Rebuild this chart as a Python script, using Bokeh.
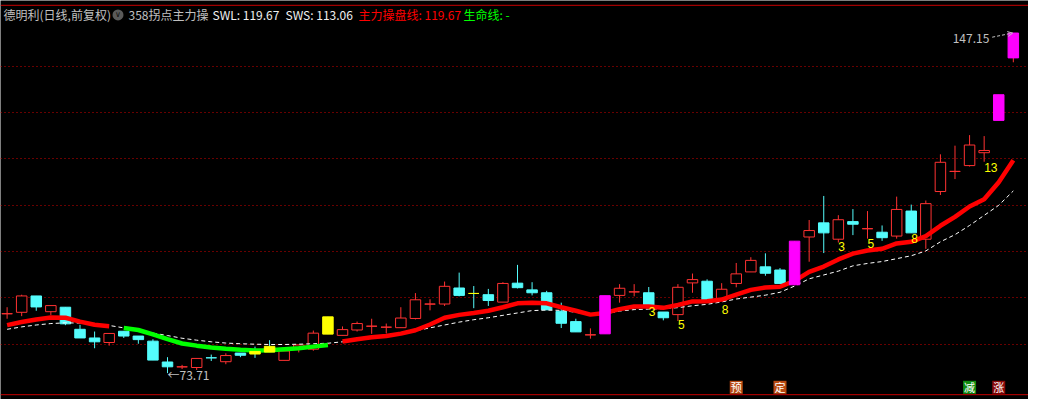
import numpy as np
from bokeh.plotting import figure
from bokeh.models import Range1d, FixedTicker, Span, Label, Arrow, OpenHead, ColumnDataSource
from bokeh.core.properties import value
from bokeh.embed import file_html
from bokeh.resources import INLINE

# ---------------- data ----------------
opens = [86.52, 86.85, 90.38, 86.98, 87.95, 83.18, 81.31, 80.33, 82.76, 81.72,
         80.62, 76.12, 75.06, 74.93, 77.03, 76.18, 78.05, 78.40, 78.26, 76.47,
         79.00, 78.88, 82.14, 81.87, 83.03, 83.84, 83.63, 83.53, 85.52, 88.62,
         88.64, 92.10, 90.92, 90.65, 89.05, 93.14, 91.69, 91.07, 87.06, 84.84,
         81.97, 82.20, 90.50, 91.25, 91.07, 86.91, 86.35, 93.20, 93.56, 89.47,
         93.08, 95.57, 96.67, 95.98, 92.79, 103.11, 106.16, 102.63, 106.43, 104.89,
         104.14, 103.31, 108.71, 102.63, 112.93, 117.26, 118.53, 121.31, 128.29, 141.78]
closes = [86.56, 90.38, 88.01, 88.30, 84.36, 81.31, 80.48, 82.28, 81.72, 80.95,
          76.53, 75.08, 75.08, 76.89, 77.01, 77.51, 77.57, 77.84, 79.50, 78.50,
          79.79, 82.35, 85.87, 83.11, 84.42, 83.86, 83.65, 85.61, 89.55, 88.64,
          92.46, 90.50, 90.92, 89.40, 93.08, 92.17, 91.07, 87.39, 84.48, 82.62,
          81.99, 90.44, 92.04, 91.27, 88.43, 85.67, 92.25, 93.91, 89.47, 91.83,
          95.15, 98.06, 95.28, 93.08, 102.21, 104.50, 104.00, 106.84, 105.87, 104.91,
          102.96, 109.06, 104.00, 110.31, 119.24, 117.28, 122.97, 121.79, 133.83, 147.15]
highs = [87.95, 90.65, 90.38, 88.30, 87.95, 84.15, 82.70, 82.28, 82.76, 81.72,
         81.04, 77.16, 75.50, 76.89, 77.72, 77.99, 78.05, 79.44, 80.83, 78.90,
         79.90, 82.91, 85.87, 83.80, 84.84, 85.46, 84.42, 87.95, 91.00, 89.67,
         93.49, 95.42, 92.52, 91.90, 93.35, 97.09, 93.35, 91.48, 88.93, 85.46,
         83.38, 90.44, 92.93, 92.93, 92.31, 86.91, 92.93, 95.22, 93.97, 93.14,
         97.50, 98.75, 99.58, 96.40, 102.21, 106.78, 111.97, 107.82, 109.13, 108.71,
         105.60, 111.83, 110.10, 110.99, 120.96, 122.83, 125.11, 124.90, 133.83, 147.15]
lows = [85.46, 86.02, 87.18, 86.23, 84.07, 81.31, 79.09, 79.65, 81.31, 80.06,
        76.53, 73.71, 74.60, 74.39, 76.33, 75.64, 77.16, 77.01, 78.26, 76.47,
        78.19, 78.55, 82.14, 81.87, 82.70, 82.20, 82.28, 83.53, 85.31, 87.27,
        88.22, 90.30, 87.74, 88.22, 89.05, 92.00, 90.50, 87.39, 83.45, 82.62,
        81.16, 82.20, 88.93, 90.30, 88.43, 85.11, 84.98, 91.07, 89.47, 89.30,
        92.25, 95.57, 94.74, 93.08, 92.79, 97.77, 99.64, 101.92, 103.52, 102.75,
        102.28, 102.75, 104.00, 100.55, 112.18, 115.62, 118.32, 119.36, 128.29, 140.83]

yellow_idx = [17, 18, 22, 32]          # yellow sticks of the indicator
limit_idx = [41, 54, 68, 69]           # magenta sticks (limit-up days)

swl = [84.07, 84.77, 85.31, 85.73, 85.67, 84.84, 84.15, 83.86, 83.45, 83.03,
       82.08, 81.04, 80.12, 79.65, 79.23, 78.96, 78.75, 78.61, 78.67, 78.88,
       79.09, 79.44, 79.79, 80.54, 81.04, 81.45, 81.72, 82.24, 82.97, 84.21,
       85.67, 86.29, 86.71, 87.18, 87.95, 88.78, 88.93, 88.78, 87.95, 87.18,
       86.35, 86.71, 87.54, 88.10, 88.10, 87.81, 88.43, 89.20, 89.26, 89.61,
       90.65, 91.69, 92.21, 92.37, 93.62, 95.57, 96.73, 98.27, 99.51, 100.20,
       100.55, 101.71, 102.07, 103.31, 105.53, 107.47, 109.69, 111.26, 114.94, 119.67]
sws = [83.18, 83.70, 84.11, 84.42, 84.57, 84.53, 84.36, 84.01, 83.49, 82.97,
       82.35, 81.83, 81.25, 80.83, 80.48, 80.21, 80.06, 79.96, 79.90, 79.90,
       79.96, 80.06, 80.17, 80.48, 81.00, 81.41, 81.83, 82.35, 82.86, 83.49,
       84.11, 84.73, 85.25, 85.67, 86.19, 86.71, 87.22, 87.33, 87.27, 86.85,
       86.39, 86.50, 87.12, 87.43, 87.54, 87.64, 87.85, 88.26, 88.57, 89.09,
       89.72, 90.13, 90.55, 91.17, 92.52, 94.08, 94.91, 95.74, 96.88, 97.40,
       97.81, 98.43, 99.06, 100.10, 102.07, 103.62, 105.60, 107.78, 109.96, 113.06]
green_from, green_to = 8, 22           # bars where the main line is green

count_idx = [44, 46, 49, 57, 59, 62, 67]
count_text = ["3", "5", "8", "3", "5", "8", "13"]
count_price = [87.12, 84.17, 87.39, 100.99, 101.69, 102.73, 118.11]

signal_idx = [50, 53, 66, 68]
signal_text = ["预", "定", "减", "涨"]

grid_levels = [80, 90, 100, 110, 120, 130, 140]

stock_title = "德明利(日线,前复权)"
indicator_name = "358拐点主力操"

# ---------------- layout helpers (reference pixel -> data) ----------------
REF_W, REF_H = 1044, 415
W, H = 1028, 399
X0_PX, DX_PX = 6.7, 14.81
Y80_PX, PX_PER_UNIT = 357.3, 4.817


def rx(px):
    return (px - X0_PX) / DX_PX


def ry(py):
    return 80 + (Y80_PX - py) / PX_PER_UNIT


def sx(px):
    # screen pixel of this figure -> data x (no rescaling of the reference)
    return rx(px * REF_W / W)


UP = "#FF3232"
DOWN = "#54FCFC"
YEL = "#FFFF00"
MAG = "#FF00FF"
CJK = "Noto Sans CJK SC"

n = len(closes)
idx = np.arange(n)
o = np.array(opens); c = np.array(closes); h = np.array(highs); l = np.array(lows)
special = set(yellow_idx) | set(limit_idx)

wick_col = []
for i in range(n):
    if i in yellow_idx:
        wick_col.append(DOWN)
    elif i in limit_idx:
        wick_col.append(UP)
    else:
        wick_col.append(UP if c[i] >= o[i] else DOWN)

p = figure(width=W, height=H,
           x_range=Range1d(rx(0), rx(REF_W)), y_range=Range1d(ry(REF_H), ry(0)),
           output_backend="svg", toolbar_location=None,
           background_fill_color="black", border_fill_color="black",
           min_border=0, outline_line_color=None)
p.xaxis.visible = False
p.yaxis.visible = False
p.xgrid.visible = False
p.ygrid.ticker = FixedTicker(ticks=grid_levels)
p.ygrid.grid_line_color = "#D00000"
p.ygrid.grid_line_dash = "1 3"
p.ygrid.grid_line_width = 1

p.add_layout(Span(location=ry(5), dimension="width", line_color="#C80000", line_width=1))
p.add_layout(Span(location=ry(410), dimension="width", line_color="#C80000", line_width=1))

# wicks
p.segment(x0=idx, y0=l, x1=idx, y1=h, line_color=wick_col, line_width=1)

# normal candles
norm = [i for i in range(n) if i not in special]
src_n = ColumnDataSource(dict(
    x=[int(i) for i in norm],
    top=[max(o[i], c[i]) for i in norm],
    bottom=[min(o[i], c[i]) for i in norm],
    fill=["#000000" if c[i] >= o[i] else DOWN for i in norm],
    line=[UP if c[i] >= o[i] else DOWN for i in norm],
))
p.vbar(x="x", top="top", bottom="bottom", width=0.72, fill_color="fill",
       line_color="line", line_width=1, source=src_n)

# indicator lines
p.line(idx, sws, line_color="white", line_width=1, line_dash="4 3")
swl_arr = np.array(swl, dtype=float)
red_line = swl_arr.copy(); red_line[green_from:green_to + 1] = np.nan
green_line = np.full(n, np.nan); green_line[green_from:green_to + 1] = swl_arr[green_from:green_to + 1]
p.line(idx, red_line, line_color="#FF0000", line_width=4.5)
p.line(idx, green_line, line_color="#00FF00", line_width=4.5)

# indicator sticks
sp = sorted(special)
src_s = ColumnDataSource(dict(
    x=sp,
    top=[max(o[i], c[i]) for i in sp],
    bottom=[min(o[i], c[i]) for i in sp],
    col=[YEL if i in yellow_idx else MAG for i in sp],
))
p.vbar(x="x", top="top", bottom="bottom", width=0.72, fill_color="col",
       line_color="col", line_width=1, source=src_s)

# count labels
p.text(x=count_idx, y=count_price, text=count_text, text_color=YEL,
       text_font=value("Liberation Sans"), text_font_size="12px",
       text_align="left", text_baseline="middle")

# min / max annotations
imin = int(np.argmin(l)); imax = int(np.argmax(h))
p.text(x=[imin], y=[l[imin]], text=[f"←{l[imin]:.2f}"], text_color="#C0C0C0",
       text_font=value(CJK), text_font_size="12px", text_align="left",
       text_baseline="middle", y_offset=1)
p.text(x=[imax], y=[h[imax]], text=[f"{h[imax]:.2f}"], text_color="#C0C0C0",
       text_font=value(CJK), text_font_size="12px", text_align="right",
       text_baseline="middle", x_offset=-24, y_offset=5)
p.add_layout(Arrow(end=OpenHead(size=5, line_color="#C0C0C0", line_width=1),
                   x_start=imax - 1.45, y_start=h[imax] - 0.9,
                   x_end=imax - 0.05, y_end=h[imax],
                   line_color="#C0C0C0", line_width=1, line_dash="3 2"))

# bottom signal boxes
p.scatter(x=signal_idx, y=[ry(402.3)] * len(signal_idx), marker="square", size=13,
          fill_color=["#B84A12", "#B84A12", "#108A10", "#8A0A0A"], line_color=None)
p.text(x=signal_idx, y=[ry(402.3)] * len(signal_idx), text=signal_text,
       text_color="white", text_font=value(CJK), text_font_size="11px",
       text_align="center", text_baseline="middle")

# header
hy = ry(15)
header = [
    (3, stock_title, "#C0C0C0"),
    (128, indicator_name, "#C0C0C0"),
    (212, f"SWL: {swl[-1]:.2f}", "#F0F0F0"),
    (285, f"SWS: {sws[-1]:.2f}", "#F0F0F0"),
    (358, f"主力操盘线: {swl[-1]:.2f}", "#FF0000"),
    (463, "生命线: -", "#00FF00"),
]
for px, txt, col in header:
    p.add_layout(Label(x=sx(px), y=hy, text=txt, text_color=col, text_font=CJK,
                       text_font_size="12px", text_baseline="middle", text_align="left"))
p.scatter(x=[sx(117.5)], y=[hy], marker="circle", size=11, fill_color="#5A5A5A", line_color=None)
p.text(x=[sx(117.5)], y=[hy], text=["∨"], text_color="#111111",
       text_font=value("DejaVu Sans"), text_font_size="8px",
       text_align="center", text_baseline="middle")

open("out.html", "w").write(file_html(p, INLINE))
